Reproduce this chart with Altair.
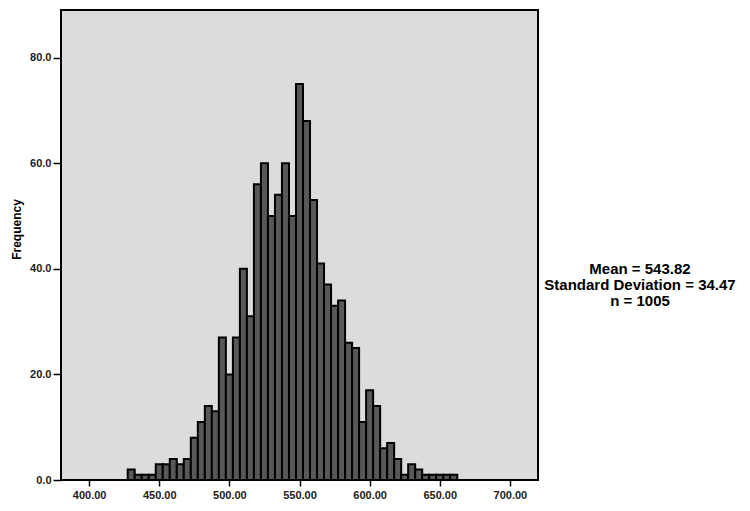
import altair as alt
import pandas as pd

bin_centers = [430, 435, 440, 445, 450, 455, 460, 465, 470, 475, 480, 485, 490, 495,
               500, 505, 510, 515, 520, 525, 530, 535, 540, 545, 550, 555, 560, 565,
               570, 575, 580, 585, 590, 595, 600, 605, 610, 615, 620, 625, 630, 635,
               640, 645, 650, 655, 660]
frequencies = [2, 1, 1, 1, 3, 3, 4, 3, 4, 8, 11, 14, 13, 27,
               20, 27, 40, 31, 56, 60, 50, 54, 60, 50, 75, 68, 53, 41,
               37, 33, 34, 26, 25, 11, 17, 14, 6, 7, 4, 1, 3, 2,
               1, 1, 1, 1, 1]
bin_width = 5
x_ticks = [400, 450, 500, 550, 600, 650, 700]
y_ticks = [0, 20, 40, 60, 80]
stat_mean = "543.82"
stat_sd = "34.47"
stat_n = "1005"

df = pd.DataFrame({
    "center": bin_centers,
    "freq": frequencies,
})
df["start"] = df["center"] - bin_width / 2
df["end"] = df["center"] + bin_width / 2

xscale = alt.Scale(domain=[383.5, 716.5], nice=False, zero=False)
yscale = alt.Scale(domain=[0, 89], nice=False)

bars = alt.Chart(df).mark_bar(
    fill="#585858", stroke="#000000", strokeWidth=2, orient="vertical"
).encode(
    x=alt.X("start:Q", scale=xscale,
            axis=alt.Axis(values=x_ticks, format=".2f", title=None, grid=False,
                          domain=False, tickColor="#000", tickSize=6, tickWidth=1.5,
                          labelFont="Liberation Sans", labelFontSize=11,
                          labelFontWeight="bold",
                          labelColor="#222222", labelPadding=3)),
    x2="end:Q",
    y=alt.Y("freq:Q", scale=yscale,
            axis=alt.Axis(values=y_ticks, format=".1f", title="Frequency", grid=False,
                          domain=False, tickColor="#000", tickSize=8, tickWidth=1.5,
                          labelFont="Liberation Sans", labelFontSize=11,
                          labelFontWeight="bold",
                          labelColor="#222222", labelPadding=2,
                          titleFont="Liberation Sans", titleFontSize=12,
                          titleFontWeight="bold", titleColor="#000",
                          titlePadding=6, titleY=219)),
    y2=alt.datum(0),
)

stats_text = "Mean = " + stat_mean + "\nStandard Deviation = " + stat_sd + "\nn = " + stat_n
stats = alt.Chart(pd.DataFrame({"t": [stats_text]})).mark_text(
    lineBreak="\n", lineHeight=16, align="center", baseline="middle",
    font="Liberation Sans", fontSize=15, fontWeight="bold", color="#000", clip=False
).encode(
    x=alt.value(579),
    y=alt.value(259),
    text="t:N",
)

chart = alt.layer(bars, stats).properties(
    width=477, height=470,
    autosize=alt.AutoSizeParams(type="none"),
    padding={"left": 53, "top": 2, "right": 204, "bottom": 30},
).configure(
    background="#ffffff"
).configure_view(
    fill="#dcdcdc", stroke="#000000", strokeWidth=2
)

chart.save("out.html", embed_options={"renderer": "svg", "actions": False})
